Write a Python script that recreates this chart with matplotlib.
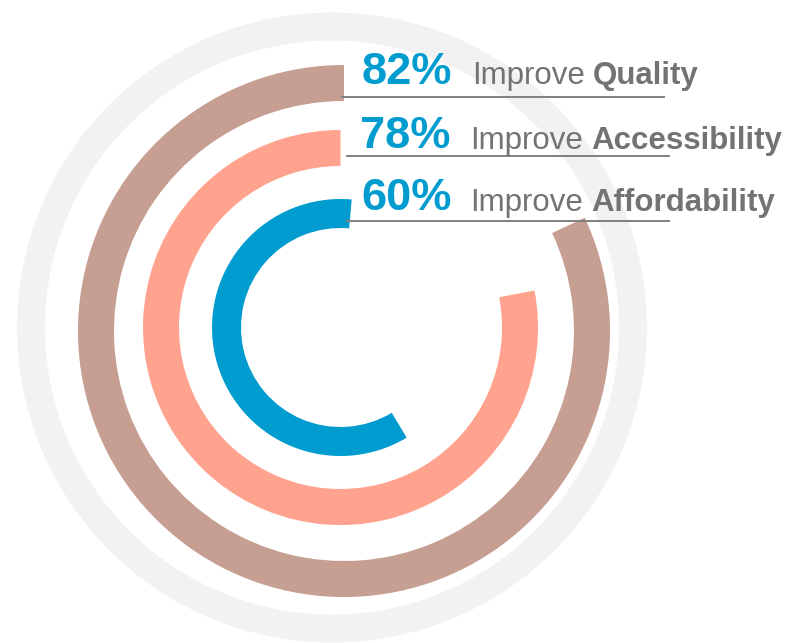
"""Radial progress rings: share of respondents per improvement goal."""
import matplotlib.pyplot as plt
from matplotlib.patches import Wedge

plt.rcParams["font.family"] = ["Liberation Sans", "DejaVu Sans"]

# data
labels = ["Quality", "Accessibility", "Affordability"]
percents = [82, 78, 60]

# ring styling (pixel layout, y grows downward)
ring_colors = ["#c69e92", "#ffa38e", "#009ccf"]
ring_centers = [(344, 331), (340.5, 327.5), (340.5, 327.5)]
ring_outer = [266, 197.5, 128.5]
ring_width = [36, 36, 29]
ring_start = [0, 0, 5]  # degrees clockwise from 12 o'clock

track_center = (332, 327.5)
track_outer = 315
track_width = 28

pct_x = [362, 360, 361]
word_x = [472, 470, 470]
baselines = [84, 148.5, 210.5]
rule_y = [96.7, 156, 220.7]
rule_x0 = [341, 346, 346]
rule_x1 = [665, 670, 670]

BLUE = "#009ccf"
TEXT_GRAY = "#737373"
RULE_GRAY = "#808080"

fig = plt.figure(figsize=(7.94, 6.43), dpi=100)
ax = fig.add_axes([0, 0, 1, 1])
ax.set_xlim(0, 794)
ax.set_ylim(643, 0)
ax.axis("off")

# background track
ax.add_patch(Wedge(track_center, track_outer, 0, 360, width=track_width,
                   facecolor="#f2f2f2", edgecolor="none"))

# progress arcs, drawn counter-clockwise from the top
# (y axis is inverted, so screen-top is 270 deg and ccw means decreasing theta)
for pct, color, c, r, w, s in zip(percents, ring_colors, ring_centers,
                                  ring_outer, ring_width, ring_start):
    span = pct / 100 * 360
    top = 270 + s
    ax.add_patch(Wedge(c, r, top - span, top, width=w,
                       facecolor=color, edgecolor="none"))

# labels with underline rules
for i, (pct, name) in enumerate(zip(percents, labels)):
    ax.plot([rule_x0[i], rule_x1[i]], [rule_y[i], rule_y[i]],
            color=RULE_GRAY, lw=1.4, solid_capstyle="butt")
    ax.text(pct_x[i], baselines[i], f"{pct}%", color=BLUE, fontsize=32.5,
            fontweight="bold", va="baseline", ha="left")
    t = ax.text(word_x[i], baselines[i], "Improve", color=TEXT_GRAY,
                fontsize=22.5, va="baseline", ha="left")
    ax.annotate(name, xy=(1, 0), xycoords=t, xytext=(8, 0),
                textcoords="offset pixels", color=TEXT_GRAY, fontsize=22.5,
                fontweight="bold", va="bottom", ha="left")

fig.savefig("out.png", dpi=100)
